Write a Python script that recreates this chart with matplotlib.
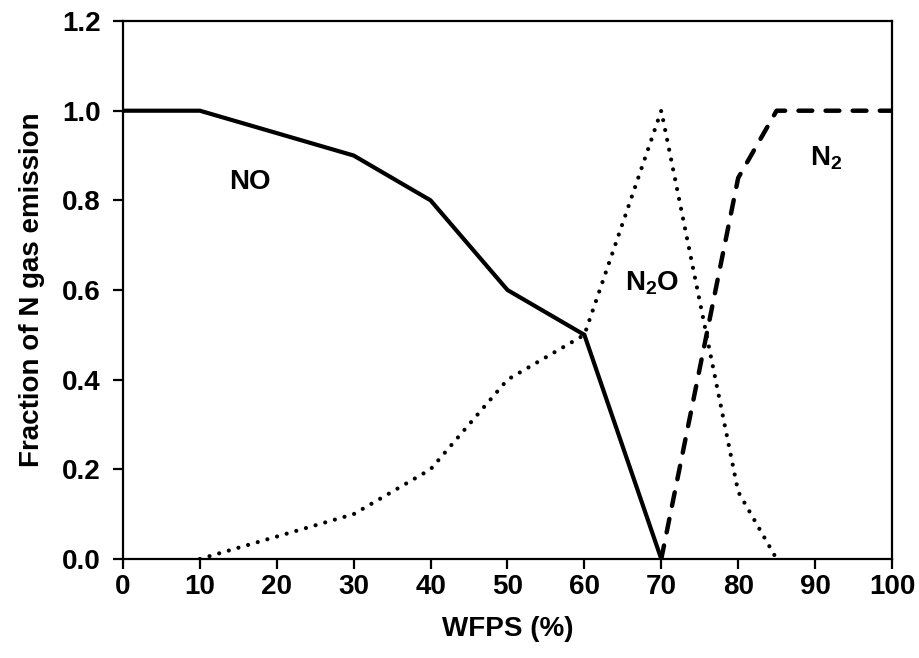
import numpy as np
import matplotlib.pyplot as plt

plt.rcParams['font.family'] = ['Liberation Sans', 'DejaVu Sans']
plt.rcParams['font.weight'] = 'bold'
plt.rcParams['mathtext.fontset'] = 'custom'
plt.rcParams['mathtext.rm'] = 'Liberation Sans:bold'
plt.rcParams['mathtext.bf'] = 'Liberation Sans:bold'
plt.rcParams['mathtext.default'] = 'bf'

# data
no_x = [0, 10, 20, 30, 40, 50, 60, 70]
no_y = [1.0, 1.0, 0.95, 0.9, 0.8, 0.6, 0.5, 0.0]

n2o_x = [10, 20, 30, 40, 50, 60, 70, 80, 85]
n2o_y = [0.0, 0.05, 0.1, 0.2, 0.4, 0.5, 1.0, 0.15, 0.0]

n2_x = [70, 80, 85, 90, 100]
n2_y = [0.0, 0.85, 1.0, 1.0, 1.0]

fig = plt.figure(figsize=(9.19, 6.58), dpi=100)
ax = fig.add_axes([0.1338, 0.1505, 0.8368, 0.8175])

ax.plot(no_x, no_y, color='black', lw=3.0, solid_joinstyle='miter')
ax.plot(n2o_x, n2o_y, color='black', lw=3.0, linestyle=(0, (0.01, 2.4)),
        dash_capstyle='round')
ax.plot(n2_x, n2_y, color='black', lw=3.2, linestyle=(0, (3.1, 3.0)),
        dash_capstyle='round')

ax.text(16.5, 0.84, 'NO', fontsize=20, ha='center', va='center')
ax.text(68.8, 0.615, r'N$_2$O', fontsize=20, ha='center', va='center')
ax.text(91.5, 0.895, r'N$_2$', fontsize=20, ha='center', va='center')

ax.set_xlim(0, 100)
ax.set_ylim(0, 1.2)
ax.set_xticks(np.arange(0, 101, 10))
ax.set_yticks(np.arange(0, 1.21, 0.2))
ax.set_yticklabels(['%.1f' % v for v in np.arange(0, 1.21, 0.2)])

for s in ax.spines.values():
    s.set_linewidth(1.6)
ax.tick_params(direction='out', length=7, width=1.6, labelsize=20)
ax.tick_params(axis='y', pad=9)
ax.tick_params(axis='x', pad=4)

ax.set_xlabel('WFPS (%)', fontsize=20, fontweight='bold', labelpad=11)
ax.set_ylabel('Fraction of N gas emission', fontsize=20, fontweight='bold', labelpad=12)

fig.savefig('out.png', dpi=100)
